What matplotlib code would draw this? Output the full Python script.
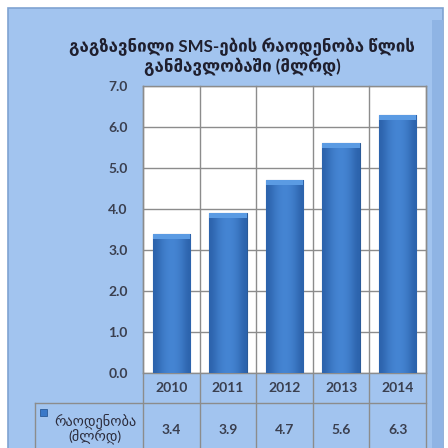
import numpy as np
import matplotlib.pyplot as plt
from matplotlib.patches import Rectangle
from matplotlib.lines import Line2D
from matplotlib.colors import LinearSegmentedColormap

plt.rcParams['font.family'] = ['Lato', 'DejaVu Sans']

years = ['2010', '2011', '2012', '2013', '2014']
sms_count = [3.4, 3.9, 4.7, 5.6, 6.3]
title = 'გაგზავნილი SMS-ების რაოდენობა წლის\nგანმავლობაში (მლრდ)'
series_label = 'რაოდენობა\n(მლრდ)'

W = 448.0
def fx(px):
    return px / W
def fy(py):
    return 1 - py / W

fig = plt.figure(figsize=(4.48, 4.48), dpi=100)
fig.patch.set_facecolor('white')

# light blue chart panel
fig.patches.append(Rectangle((fx(8), fy(460)), fx(435), fx(452), transform=fig.transFigure,
                             facecolor='#a2c4ef', edgecolor='#7fa3d2', linewidth=1.2, zorder=-2))
fig.patches.append(Rectangle((fx(432), fy(460)), fx(11), fx(440), transform=fig.transFigure,
                             facecolor='#8fb4e4', edgecolor='none', zorder=-1))

ax = fig.add_axes([fx(143), fy(373), fx(426 - 143), fx(373 - 86)])
ax.set_facecolor('white')
x = np.arange(len(years))
bars = ax.bar(x, sms_count, width=0.66, color='#3a78c8', edgecolor='#2a5a98', linewidth=0.8, zorder=3)

# horizontal shading on each bar
grad = np.array([[0.0, 0.45, 0.75, 0.85, 0.75, 0.45, 0.0]])
cmap = LinearSegmentedColormap.from_list('b', ['#2c63ac', '#4686d4'])
for b in bars:
    x0, y0 = b.get_x(), b.get_y()
    im = ax.imshow(grad, extent=(x0, x0 + b.get_width(), y0, y0 + b.get_height()),
                   cmap=cmap, aspect='auto', zorder=4, interpolation='bicubic')
    im.set_clip_path(b)
    top = b.get_height()
    ax.add_patch(Rectangle((x0, top - 0.12), b.get_width(), 0.12, facecolor='#5b9be3',
                           edgecolor='none', zorder=5))

ax.set_xlim(-0.5, len(years) - 0.5)
ax.set_ylim(0, 7)
ax.set_yticks(np.arange(0, 7.1, 1.0))
ax.set_yticklabels(['%.1f' % v for v in np.arange(0, 7.1, 1.0)], fontsize=10, fontweight='bold', color='#3a3f4f')
ax.tick_params(axis='y', length=0, pad=11)
ax.set_xticks([])
ax.yaxis.grid(True, color='#8c8c8c', linewidth=1, zorder=1)
ax.set_axisbelow(True)
for s in ax.spines.values():
    s.set_color('#8c8c8c')
    s.set_linewidth(1)

# category separators running through the data table
for b in np.arange(-0.5, len(years), 1.0):
    ax.add_line(Line2D([b, b], [-0.3, 1], transform=ax.get_xaxis_transform(), color='#8c8c8c',
                       linewidth=1, clip_on=False, zorder=2))

# data table rows
fig.lines.append(Line2D([fx(35), fx(426)], [fy(403), fy(403)], transform=fig.transFigure,
                        color='#8c8c8c', linewidth=1))
fig.lines.append(Line2D([fx(35), fx(35)], [fy(403), fy(460)], transform=fig.transFigure,
                        color='#8c8c8c', linewidth=1))

tr = ax.get_xaxis_transform()
for i, (yr, v) in enumerate(zip(years, sms_count)):
    ax.text(i, -(388 - 373) / 287, yr, transform=tr, ha='center', va='center',
            fontsize=10, fontweight='bold', color='#3a3f4f')
    ax.text(i, -(430 - 373) / 287, '%.1f' % v, transform=tr, ha='center', va='center',
            fontsize=10, fontweight='bold', color='#3a3f4f')

fig.patches.append(Rectangle((fx(40), fy(416)), fx(7), fx(7), transform=fig.transFigure,
                             facecolor='#3a78c8', edgecolor='#2a5a98', linewidth=0.6))
fig.text(fx(95), fy(429), series_label, ha='center', va='center', fontsize=10.3,
         color='#2b2b3b', linespacing=1.05)

fig.text(fx(242), fy(57), title, ha='center', va='center', fontsize=12.2, fontweight='bold',
         color='#1f1f2e', linespacing=1.1)

fig.savefig('out.png', dpi=100)
